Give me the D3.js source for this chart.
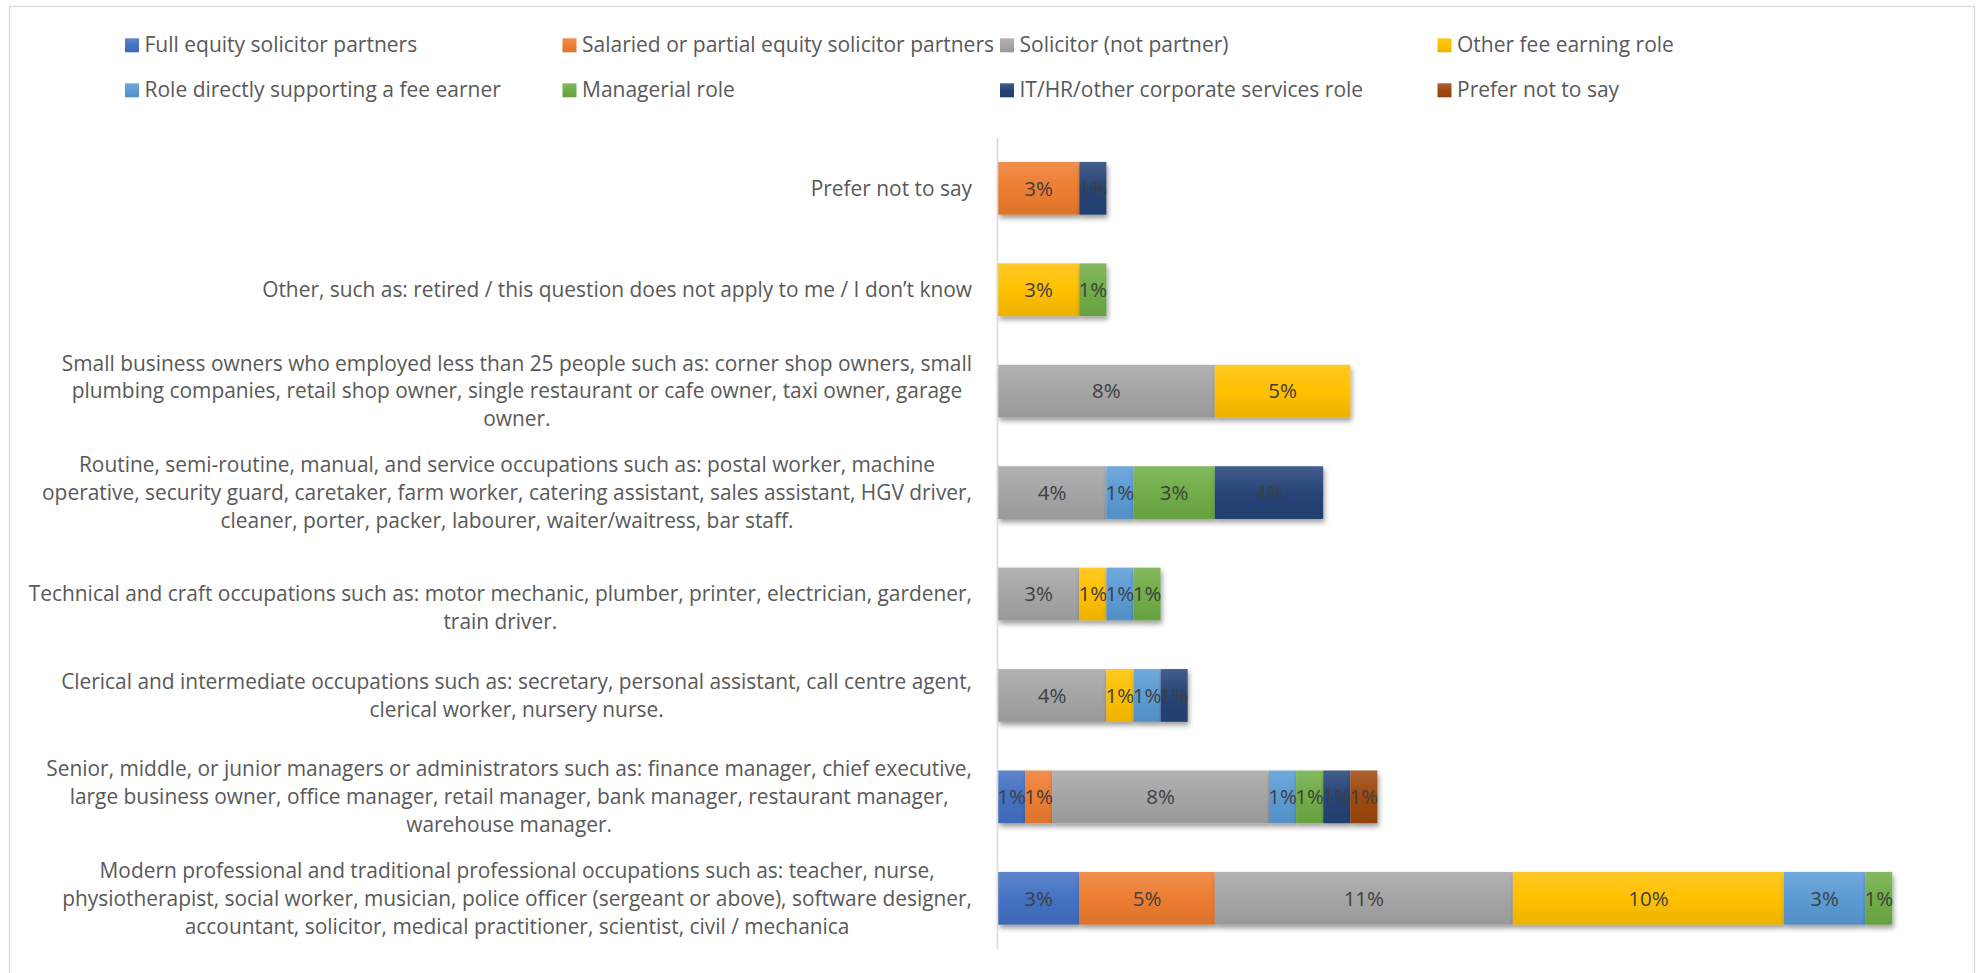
<!DOCTYPE html>
<html><head><meta charset="utf-8">
<script src="https://cdn.jsdelivr.net/npm/d3@7/dist/d3.min.js"></script>
<style>body{margin:0;background:#fff}text{font-family:"Open Sans",sans-serif}</style>
</head><body>
<svg id="chart" width="1982" height="973"></svg>
<script>
// ---- Data (display order: top to bottom) ----
const categories = [
  "Prefer not to say",
  "Other, such as: retired / this question does not apply to me / I don’t know",
  "Small business owners who employed less than 25 people such as: corner shop owners, small\nplumbing companies, retail shop owner, single restaurant or cafe owner, taxi owner, garage\nowner.",
  "Routine, semi-routine, manual, and service occupations such as: postal worker, machine\noperative, security guard, caretaker, farm worker, catering assistant, sales assistant, HGV driver,\ncleaner, porter, packer, labourer, waiter/waitress, bar staff.",
  "\nTechnical and craft occupations such as: motor mechanic, plumber, printer, electrician, gardener,\ntrain driver.",
  "Clerical and intermediate occupations such as: secretary, personal assistant, call centre agent,\nclerical worker, nursery nurse.",
  "Senior, middle, or junior managers or administrators such as: finance manager, chief executive,\nlarge business owner, office manager, retail manager, bank manager, restaurant manager,\nwarehouse manager.",
  "Modern professional and traditional professional occupations such as: teacher, nurse,\nphysiotherapist, social worker, musician, police officer (sergeant or above), software designer,\naccountant, solicitor, medical practitioner, scientist, civil / mechanica"
];
const seriesNames = [
  "Full equity solicitor partners",
  "Salaried or partial equity solicitor partners",
  "Solicitor (not partner)",
  "Other fee earning role",
  "Role directly supporting a fee earner",
  "Managerial role",
  "IT/HR/other corporate services role",
  "Prefer not to say"
];
const seriesColors = ["#4472C4","#ED7D31","#A5A5A5","#FFC000","#5B9BD5","#70AD47","#264478","#9E480E"];
const fullEquity      = [0,    0,    0,    0,    0,    0,    0.01, 0.03];
const salaried        = [0.03, 0,    0,    0,    0,    0,    0.01, 0.05];
const solicitor       = [0,    0,    0.08, 0.04, 0.03, 0.04, 0.08, 0.11];
const otherFeeEarning = [0,    0.03, 0.05, 0,    0.01, 0.01, 0,    0.10];
const supportRole     = [0,    0,    0,    0.01, 0.01, 0.01, 0.01, 0.03];
const managerial      = [0,    0.01, 0,    0.03, 0.01, 0,    0.01, 0.01];
const itHrCorporate   = [0.01, 0,    0,    0.04, 0,    0.01, 0.01, 0   ];
const preferNotToSay  = [0,    0,    0,    0,    0,    0,    0.01, 0   ];
const seriesValues = [fullEquity, salaried, solicitor, otherFeeEarning, supportRole, managerial, itHrCorporate, preferNotToSay];

// ---- Layout ----
const FS_LABEL = 20.9, FS_LEGEND = 21, FS_DATA = 20.5;
const svg = d3.select("#chart");
const x = d3.scaleLinear().domain([0, 0.35]).range([998, 998 + 948.5]);
const y = d3.scaleBand().domain(categories).range([137.6, 949]).paddingInner(0.48).paddingOuter(0.24);

// chart border
svg.append("rect").attr("x", 9.5).attr("y", 6.5).attr("width", 1965).attr("height", 1000)
  .attr("fill", "#fff").attr("stroke", "#D9D9D9").attr("stroke-width", 1.3);

const defs = svg.append("defs");
const f = defs.append("filter").attr("id", "shadow").attr("x", "-10%").attr("y", "-20%").attr("width", "130%").attr("height", "160%");
f.append("feDropShadow").attr("dx", 1.5).attr("dy", 3.5).attr("stdDeviation", 2.6)
  .attr("flood-color", "#000").attr("flood-opacity", 0.38);
seriesColors.forEach((c, i) => {
  const g = defs.append("linearGradient").attr("id", "grad" + i).attr("x1", 0).attr("y1", 0).attr("x2", 0).attr("y2", 1);
  g.append("stop").attr("offset", "0%").attr("stop-color", d3.interpolateRgb(c, "#fff")(0.14));
  g.append("stop").attr("offset", "50%").attr("stop-color", c);
  g.append("stop").attr("offset", "100%").attr("stop-color", d3.rgb(c).darker(0.22).formatHex());
});

// stacked data
const rows = categories.map((cat, ci) => {
  const r = { cat };
  seriesNames.forEach((s, si) => r[s] = seriesValues[si][ci]);
  return r;
});
const stacked = d3.stack().keys(seriesNames)(rows);

const barsG = svg.append("g");
stacked.forEach((layer, si) => {
  barsG.append("g").selectAll("rect").data(layer.filter(d => d[1] - d[0] > 0)).join("rect")
    .attr("x", d => x(d[0]))
    .attr("y", d => y(d.data.cat))
    .attr("width", d => x(d[1]) - x(d[0]))
    .attr("height", y.bandwidth())
    .attr("fill", `url(#grad${si})`)
    .attr("filter", "url(#shadow)");
});

// data labels
const fmt = d3.format(".0%");
const labG = svg.append("g");
stacked.forEach((layer, si) => {
  labG.append("g").selectAll("text").data(layer.filter(d => d[1] - d[0] > 0)).join("text")
    .attr("x", d => (x(d[0]) + x(d[1])) / 2)
    .attr("y", d => y(d.data.cat) + y.bandwidth() / 2 + 0.357 * FS_DATA)
    .attr("text-anchor", "middle")
    .attr("font-size", FS_DATA)
    .attr("fill", "#404040")
    .text(d => fmt(d[1] - d[0]));
});

// vertical axis line
svg.append("line").attr("x1", x(0) - 0.5).attr("x2", x(0) - 0.5).attr("y1", y.range()[0]).attr("y2", y.range()[1])
  .attr("stroke", "#D9D9D9").attr("stroke-width", 1.6);

// category labels (blocks right-aligned, lines centered within block)
const LH = 27.9, blockRight = 972;
categories.forEach(cat => {
  const lines = cat.split("\n");
  const cy = y(cat) + y.bandwidth() / 2;
  const g = svg.append("g");
  const ts = lines.map((ln, i) => g.append("text")
    .attr("y", cy + (i - (lines.length - 1) / 2) * LH + 0.35 * FS_LABEL)
    .attr("font-size", FS_LABEL).attr("fill", "#595959").attr("text-anchor", "middle").text(ln));
  const w = d3.max(ts, t => t.node().getComputedTextLength());
  ts.forEach(t => t.attr("x", blockRight - w / 2));
});

// legend
const lg = svg.append("g");
seriesNames.forEach((s, i) => {
  const col = i % 4, row = Math.floor(i / 4);
  const lx = 125 + col * 437.5, base = 52.3 + row * 45;
  lg.append("rect").attr("x", lx).attr("y", base - 14).attr("width", 14).attr("height", 14).attr("fill", `url(#grad${i})`);
  lg.append("text").attr("x", lx + 19.5).attr("y", base).attr("font-size", FS_LEGEND).attr("fill", "#595959").text(s);
});
</script>
</body></html>
